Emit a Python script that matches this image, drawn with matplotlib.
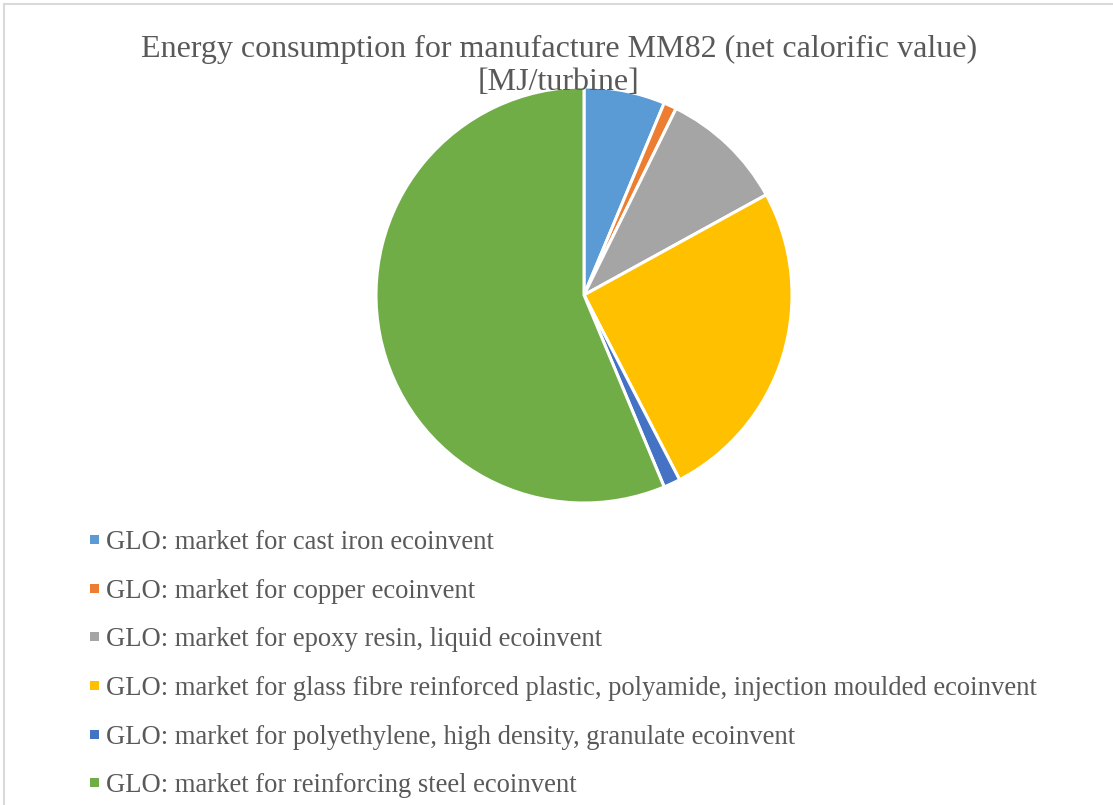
import matplotlib

matplotlib.use("Agg")
import matplotlib.pyplot as plt  # noqa: E402
from matplotlib.lines import Line2D  # noqa: E402
from matplotlib.patches import Rectangle  # noqa: E402

# Energy share per material (MJ/turbine, net calorific value)
materials = [
    "GLO: market for cast iron ecoinvent",
    "GLO: market for copper ecoinvent",
    "GLO: market for epoxy resin, liquid ecoinvent",
    "GLO: market for glass fibre reinforced plastic, polyamide, injection moulded ecoinvent",
    "GLO: market for polyethylene, high density, granulate ecoinvent",
    "GLO: market for reinforcing steel ecoinvent",
]
energy = [6.3, 1.0, 9.7, 25.4, 1.3, 56.3]
colors = ["#5b9bd5", "#ed7d31", "#a5a5a5", "#ffc000", "#4472c4", "#70ad47"]

title = "Energy consumption for manufacture MM82 (net calorific value)\n[MJ/turbine]"
text_color = "#595959"

W, H = 1113, 805
fig = plt.figure(figsize=(W / 100, H / 100), dpi=100)
plt.rcParams["font.family"] = ["Liberation Serif", "DejaVu Serif"]

# pie area: centre (584, 295), radius 208 px
cx, cy, r = 584, 295, 208
ax = fig.add_axes([(cx - r) / W, 1 - (cy + r) / H, 2 * r / W, 2 * r / H])
ax.pie(
    energy,
    colors=colors,
    startangle=90,
    counterclock=False,
    wedgeprops=dict(edgecolor="white", linewidth=2.2),
)
ax.set_aspect("equal")
ax.set_xlim(-1, 1)
ax.set_ylim(-1, 1)
ax.axis("off")

fig.text(559 / W, 1 - 66 / H, title, ha="center", va="center",
         fontsize=23, color=text_color, linespacing=1.2)

# legend rows down the left side
row_y = [539, 588, 636, 685, 734, 782]
for y, label, c in zip(row_y, materials, colors):
    fig.add_artist(Rectangle((90 / W, 1 - (y + 4.5) / H), 9 / W, 9 / H,
                             transform=fig.transFigure, color=c, lw=0))
    fig.text(106 / W, 1 - y / H, label, ha="left", va="center_baseline",
             fontsize=19.2, color=text_color)

# chart frame (only top and left edges are in view)
fig.add_artist(Line2D([3.5 / W, 1], [1 - 4.5 / H, 1 - 4.5 / H],
                      transform=fig.transFigure, color="#d9d9d9", lw=1.5))
fig.add_artist(Line2D([3.5 / W, 3.5 / W], [0, 1 - 4.5 / H],
                      transform=fig.transFigure, color="#d9d9d9", lw=1.5))

fig.savefig("out.png", dpi=100)
plt.close(fig)
